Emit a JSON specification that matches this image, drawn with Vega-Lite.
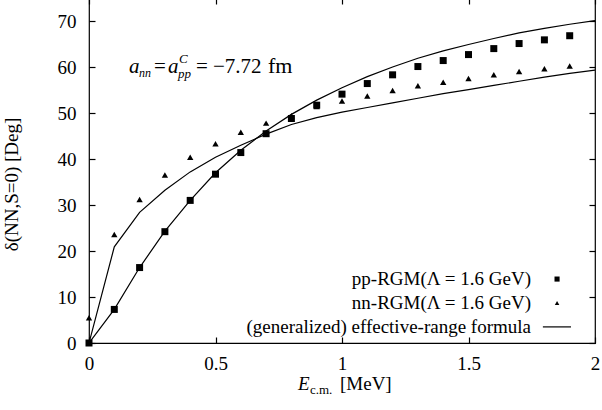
{
  "$schema": "https://vega.github.io/schema/vega-lite/v6.json",
  "width": 506,
  "height": 345,
  "autosize": {"type": "none"},
  "padding": {"left": 89, "top": -2, "right": 7, "bottom": 67},
  "config": {
    "view": {"stroke": "black", "strokeWidth": 1.2},
    "font": "Liberation Serif",
    "text": {"font": "Liberation Serif", "color": "black"},
    "axis": {"labelFont": "Liberation Serif", "labelFontSize": 19, "labelColor": "black", "domainColor": "black", "domainWidth": 1.2, "tickColor": "black", "tickWidth": 1.2, "grid": false, "titleFont": "Liberation Serif", "titleFontWeight": "normal", "titleColor": "black"}
  },
  "datasets": {
    "curves": [
      {"E": 0, "delta": 0, "curve": "pp"}, {"E": 0.1, "delta": 7.3, "curve": "pp"}, {"E": 0.2, "delta": 16.4, "curve": "pp"}, {"E": 0.3, "delta": 24.3, "curve": "pp"}, {"E": 0.4, "delta": 31.0, "curve": "pp"}, {"E": 0.5, "delta": 37.0, "curve": "pp"}, {"E": 0.6, "delta": 41.9, "curve": "pp"}, {"E": 0.7, "delta": 46.1, "curve": "pp"}, {"E": 0.8, "delta": 49.7, "curve": "pp"}, {"E": 0.9, "delta": 52.8, "curve": "pp"}, {"E": 1.0, "delta": 55.5, "curve": "pp"}, {"E": 1.1, "delta": 57.9, "curve": "pp"}, {"E": 1.2, "delta": 60.0, "curve": "pp"}, {"E": 1.3, "delta": 61.9, "curve": "pp"}, {"E": 1.4, "delta": 63.5, "curve": "pp"}, {"E": 1.5, "delta": 64.9, "curve": "pp"}, {"E": 1.6, "delta": 66.2, "curve": "pp"}, {"E": 1.7, "delta": 67.4, "curve": "pp"}, {"E": 1.8, "delta": 68.4, "curve": "pp"}, {"E": 1.9, "delta": 69.3, "curve": "pp"}, {"E": 2.0, "delta": 70.1, "curve": "pp"},
      {"E": 0, "delta": 0, "curve": "nn"}, {"E": 0.1, "delta": 20.9, "curve": "nn"}, {"E": 0.2, "delta": 28.4, "curve": "nn"}, {"E": 0.3, "delta": 33.2, "curve": "nn"}, {"E": 0.4, "delta": 37.2, "curve": "nn"}, {"E": 0.5, "delta": 40.4, "curve": "nn"}, {"E": 0.6, "delta": 43.0, "curve": "nn"}, {"E": 0.7, "delta": 45.4, "curve": "nn"}, {"E": 0.8, "delta": 47.5, "curve": "nn"}, {"E": 0.9, "delta": 49.0, "curve": "nn"}, {"E": 1.0, "delta": 50.2, "curve": "nn"}, {"E": 1.1, "delta": 51.2, "curve": "nn"}, {"E": 1.2, "delta": 52.2, "curve": "nn"}, {"E": 1.3, "delta": 53.2, "curve": "nn"}, {"E": 1.4, "delta": 54.2, "curve": "nn"}, {"E": 1.5, "delta": 55.1, "curve": "nn"}, {"E": 1.6, "delta": 56.0, "curve": "nn"}, {"E": 1.7, "delta": 56.9, "curve": "nn"}, {"E": 1.8, "delta": 57.8, "curve": "nn"}, {"E": 1.9, "delta": 58.6, "curve": "nn"}, {"E": 2.0, "delta": 59.3, "curve": "nn"}
    ],
    "points": [
      {"E": 0, "delta": 0, "series": "pp-RGM(Λ = 1.6 GeV)"}, {"E": 0.1, "delta": 7.3, "series": "pp-RGM(Λ = 1.6 GeV)"}, {"E": 0.2, "delta": 16.4, "series": "pp-RGM(Λ = 1.6 GeV)"}, {"E": 0.3, "delta": 24.2, "series": "pp-RGM(Λ = 1.6 GeV)"}, {"E": 0.4, "delta": 31.0, "series": "pp-RGM(Λ = 1.6 GeV)"}, {"E": 0.5, "delta": 36.7, "series": "pp-RGM(Λ = 1.6 GeV)"}, {"E": 0.6, "delta": 41.4, "series": "pp-RGM(Λ = 1.6 GeV)"}, {"E": 0.7, "delta": 45.5, "series": "pp-RGM(Λ = 1.6 GeV)"}, {"E": 0.8, "delta": 48.8, "series": "pp-RGM(Λ = 1.6 GeV)"}, {"E": 0.9, "delta": 51.7, "series": "pp-RGM(Λ = 1.6 GeV)"}, {"E": 1.0, "delta": 54.1, "series": "pp-RGM(Λ = 1.6 GeV)"}, {"E": 1.1, "delta": 56.4, "series": "pp-RGM(Λ = 1.6 GeV)"}, {"E": 1.2, "delta": 58.3, "series": "pp-RGM(Λ = 1.6 GeV)"}, {"E": 1.3, "delta": 60.1, "series": "pp-RGM(Λ = 1.6 GeV)"}, {"E": 1.4, "delta": 61.4, "series": "pp-RGM(Λ = 1.6 GeV)"}, {"E": 1.5, "delta": 62.7, "series": "pp-RGM(Λ = 1.6 GeV)"}, {"E": 1.6, "delta": 64.0, "series": "pp-RGM(Λ = 1.6 GeV)"}, {"E": 1.7, "delta": 65.1, "series": "pp-RGM(Λ = 1.6 GeV)"}, {"E": 1.8, "delta": 65.9, "series": "pp-RGM(Λ = 1.6 GeV)"}, {"E": 1.9, "delta": 66.8, "series": "pp-RGM(Λ = 1.6 GeV)"},
      {"E": 0, "delta": 5.5, "series": "nn-RGM(Λ = 1.6 GeV)"}, {"E": 0.1, "delta": 23.6, "series": "nn-RGM(Λ = 1.6 GeV)"}, {"E": 0.2, "delta": 31.2, "series": "nn-RGM(Λ = 1.6 GeV)"}, {"E": 0.3, "delta": 36.5, "series": "nn-RGM(Λ = 1.6 GeV)"}, {"E": 0.4, "delta": 40.4, "series": "nn-RGM(Λ = 1.6 GeV)"}, {"E": 0.5, "delta": 43.3, "series": "nn-RGM(Λ = 1.6 GeV)"}, {"E": 0.6, "delta": 45.8, "series": "nn-RGM(Λ = 1.6 GeV)"}, {"E": 0.7, "delta": 47.8, "series": "nn-RGM(Λ = 1.6 GeV)"}, {"E": 0.8, "delta": 49.4, "series": "nn-RGM(Λ = 1.6 GeV)"}, {"E": 0.9, "delta": 51.4, "series": "nn-RGM(Λ = 1.6 GeV)"}, {"E": 1.0, "delta": 52.6, "series": "nn-RGM(Λ = 1.6 GeV)"}, {"E": 1.1, "delta": 53.7, "series": "nn-RGM(Λ = 1.6 GeV)"}, {"E": 1.2, "delta": 54.9, "series": "nn-RGM(Λ = 1.6 GeV)"}, {"E": 1.3, "delta": 55.9, "series": "nn-RGM(Λ = 1.6 GeV)"}, {"E": 1.4, "delta": 56.7, "series": "nn-RGM(Λ = 1.6 GeV)"}, {"E": 1.5, "delta": 57.5, "series": "nn-RGM(Λ = 1.6 GeV)"}, {"E": 1.6, "delta": 58.3, "series": "nn-RGM(Λ = 1.6 GeV)"}, {"E": 1.7, "delta": 59.0, "series": "nn-RGM(Λ = 1.6 GeV)"}, {"E": 1.8, "delta": 59.6, "series": "nn-RGM(Λ = 1.6 GeV)"}, {"E": 1.9, "delta": 60.2, "series": "nn-RGM(Λ = 1.6 GeV)"}
    ],
    "anno": [{"label": "annotation"}]
  },
  "layer": [
    {
      "data": {"name": "curves"},
      "mark": {"type": "line", "color": "black", "strokeWidth": 1.2, "clip": true},
      "encoding": {
        "x": {"field": "E", "type": "quantitative", "scale": {"domain": [0, 2], "nice": false, "zero": false},
          "axis": {"orient": "bottom", "values": [0, 0.5, 1, 1.5, 2], "format": "~g", "ticks": false, "domain": false, "labelPadding": 11, "title": null, "labelFlush": false}},
        "y": {"field": "delta", "type": "quantitative", "scale": {"domain": [0, 75], "nice": false, "zero": false},
          "axis": {"orient": "left", "values": [0, 10, 20, 30, 40, 50, 60, 70], "ticks": false, "domain": false, "labelPadding": 13, "labelFlush": false, "title": "δ(NN,S=0) [Deg]", "titleFontSize": 19, "titleX": -78, "titleY": 186, "titleBaseline": "middle", "titleAngle": -90}},
        "detail": {"field": "curve"}
      }
    },
    {
      "data": {"name": "points"},
      "mark": {"type": "point", "filled": true, "color": "black", "opacity": 1},
      "encoding": {
        "x": {"field": "E", "type": "quantitative", "scale": {"domain": [0, 2], "nice": false, "zero": false},
          "axis": {"orient": "bottom", "values": [0, 0.5, 1, 1.5, 2], "tickSize": 6, "offset": -6, "labels": false, "domain": false, "title": null}},
        "y": {"field": "delta", "type": "quantitative", "scale": {"domain": [0, 75], "nice": false, "zero": false},
          "axis": {"orient": "left", "values": [0, 10, 20, 30, 40, 50, 60, 70], "tickSize": 6, "offset": -6, "labels": false, "domain": false, "title": null}},
        "shape": {"field": "series", "type": "nominal", "legend": null,
          "scale": {"domain": ["pp-RGM(Λ = 1.6 GeV)", "nn-RGM(Λ = 1.6 GeV)"], "range": ["square", "triangle-up"]}},
        "size": {"field": "series", "type": "nominal", "legend": null,
          "scale": {"domain": ["pp-RGM(Λ = 1.6 GeV)", "nn-RGM(Λ = 1.6 GeV)"], "range": [49, 40]}}
      }
    },
    {
      "data": {"name": "anno"},
      "layer": [
        {"mark": {"type": "text", "text": "a", "fontStyle": "italic", "fontSize": 21, "align": "left", "baseline": "alphabetic"}},
        {"mark": {"type": "text", "text": "nn", "fontStyle": "italic", "fontSize": 12, "align": "left", "baseline": "alphabetic", "dx": 10, "dy": 4}},
        {"mark": {"type": "text", "text": "=", "fontSize": 21, "align": "left", "baseline": "alphabetic", "dx": 25}},
        {"mark": {"type": "text", "text": "a", "fontStyle": "italic", "fontSize": 21, "align": "left", "baseline": "alphabetic", "dx": 39}},
        {"mark": {"type": "text", "text": "C", "fontStyle": "italic", "fontSize": 13, "align": "left", "baseline": "alphabetic", "dx": 50, "dy": -10}},
        {"mark": {"type": "text", "text": "pp", "fontStyle": "italic", "fontSize": 13, "align": "left", "baseline": "alphabetic", "dx": 49, "dy": 5}},
        {"mark": {"type": "text", "text": "=", "fontSize": 21, "align": "left", "baseline": "alphabetic", "dx": 67}},
        {"mark": {"type": "text", "text": "−7.72", "fontSize": 21, "align": "left", "baseline": "alphabetic", "dx": 84}},
        {"mark": {"type": "text", "text": "fm", "fontSize": 22, "align": "left", "baseline": "alphabetic", "dx": 139}}
      ],
      "encoding": {
        "x": {"datum": 0.158, "type": "quantitative", "scale": {"domain": [0, 2], "nice": false, "zero": false},
          "axis": {"orient": "top", "values": [0, 0.5, 1, 1.5, 2], "tickSize": 6, "offset": -6, "labels": false, "domain": false, "title": null}},
        "y": {"datum": 58.7, "type": "quantitative", "scale": {"domain": [0, 75], "nice": false, "zero": false},
          "axis": {"orient": "right", "values": [0, 10, 20, 30, 40, 50, 60, 70], "tickSize": 6, "offset": -6, "labels": false, "domain": false, "title": null}}
      }
    },
    {
      "data": {"name": "anno"},
      "layer": [
        {"mark": {"type": "text", "text": "E", "fontStyle": "italic", "fontSize": 19, "align": "left", "baseline": "alphabetic"}},
        {"mark": {"type": "text", "text": "c.m.", "fontSize": 13, "align": "left", "baseline": "alphabetic", "dx": 12, "dy": 4}},
        {"mark": {"type": "text", "text": "[MeV]", "fontSize": 19, "align": "left", "baseline": "alphabetic", "dx": 42}}
      ],
      "encoding": {
        "x": {"datum": 0.826, "type": "quantitative", "scale": {"domain": [0, 2], "nice": false, "zero": false}, "axis": null},
        "y": {"datum": -10.2, "type": "quantitative", "scale": {"domain": [0, 75], "nice": false, "zero": false}, "axis": null}
      }
    },
    {
      "data": {"name": "anno"},
      "layer": [
        {"mark": {"type": "text", "text": "pp-RGM(Λ = 1.6 GeV)", "fontSize": 19, "align": "right", "baseline": "middle"},
          "encoding": {"x": {"datum": 1.747, "type": "quantitative", "scale": {"domain": [0, 2], "nice": false, "zero": false}, "axis": null},
                       "y": {"datum": 13.9, "type": "quantitative", "scale": {"domain": [0, 75], "nice": false, "zero": false}, "axis": null}}},
        {"mark": {"type": "text", "text": "nn-RGM(Λ = 1.6 GeV)", "fontSize": 19, "align": "right", "baseline": "middle"},
          "encoding": {"x": {"datum": 1.747, "type": "quantitative"}, "y": {"datum": 8.7, "type": "quantitative"}}},
        {"mark": {"type": "text", "text": "(generalized) effective-range formula", "fontSize": 19, "align": "right", "baseline": "middle"},
          "encoding": {"x": {"datum": 1.747, "type": "quantitative"}, "y": {"datum": 3.5, "type": "quantitative"}}},
        {"mark": {"type": "point", "shape": "square", "filled": true, "color": "black", "opacity": 1, "size": 26},
          "encoding": {"x": {"datum": 1.85, "type": "quantitative"}, "y": {"datum": 13.9, "type": "quantitative"}}},
        {"mark": {"type": "point", "shape": "triangle-up", "filled": true, "color": "black", "opacity": 1, "size": 20},
          "encoding": {"x": {"datum": 1.85, "type": "quantitative"}, "y": {"datum": 8.7, "type": "quantitative"}}},
        {"mark": {"type": "rule", "color": "black", "strokeWidth": 1.2},
          "encoding": {"x": {"datum": 1.794, "type": "quantitative"}, "x2": {"datum": 1.905}, "y": {"datum": 3.5, "type": "quantitative"}}}
      ]
    }
  ],
  "resolve": {"scale": {"x": "independent", "y": "independent"}, "axis": {"x": "independent", "y": "independent"}}
}
